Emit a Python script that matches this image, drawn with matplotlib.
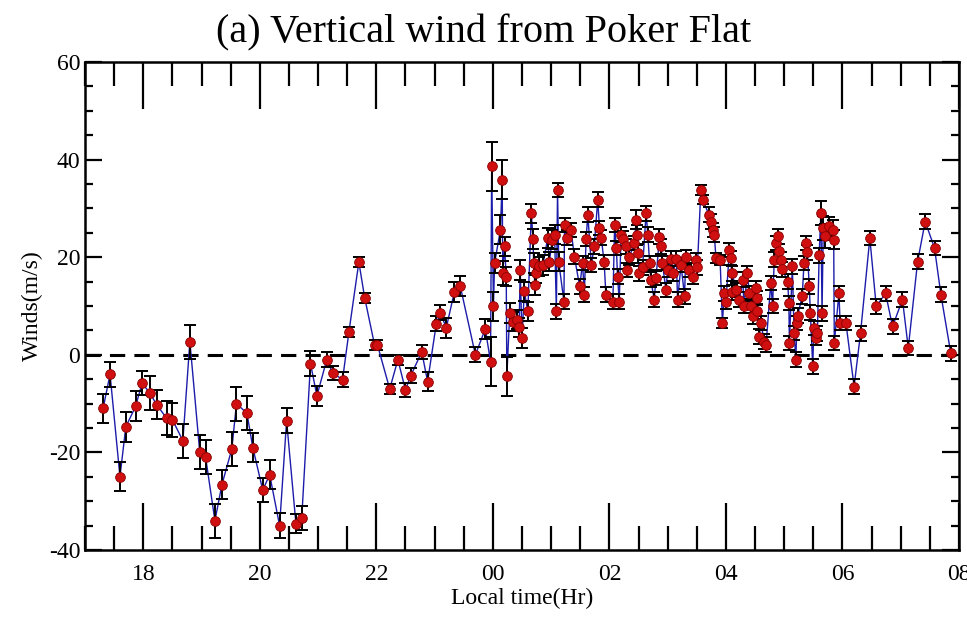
import numpy as np
import matplotlib.pyplot as plt
from matplotlib.ticker import FixedLocator, MultipleLocator

# ── Data (local time in hours, 24+ = after midnight) ──
time_eve = [17.31, 17.43, 17.60, 17.70, 17.87, 17.98, 18.11, 18.23, 18.40, 18.50,
            18.68, 18.80, 18.97, 19.07, 19.23, 19.35, 19.52, 19.60, 19.78, 19.88,
            20.05, 20.17, 20.34, 20.46, 20.62, 20.72, 20.87, 20.98, 21.15, 21.25,
            21.42, 21.53, 21.70, 21.80, 21.97, 22.02, 22.23, 22.37, 22.50, 22.59,
            22.78, 22.88, 23.03, 23.10, 23.20, 23.34, 23.44, 23.70, 23.87]
wind_eve = [-11.0, -4.0, -25.0, -14.8, -10.5, -5.8, -7.8, -10.2, -13.0, -13.3,
            -17.6, 2.7, -20.0, -21.0, -34.0, -26.6, -19.3, -10.0, -12.0, -19.0,
            -27.7, -24.6, -35.0, -13.5, -34.6, -33.4, -1.8, -8.4, -1.0, -3.7,
            -5.1, 4.7, 19.0, 11.7, 2.0, 2.0, -7.0, -1.0, -7.2, -4.3,
            0.6, -5.5, 6.4, 8.6, 5.5, 12.9, 14.1, 0.0, 5.3]
err_eve = [3.0, 2.5, 3.0, 3.0, 3.0, 2.5, 3.5, 3.0, 3.5, 3.5,
           3.5, 3.5, 3.5, 3.5, 3.5, 3.0, 3.5, 3.5, 3.5, 3.0,
           2.5, 3.0, 2.5, 2.5, 2.0, 2.5, 2.5, 2.0, 1.5, 1.5,
           1.5, 1.0, 1.0, 1.0, 1.0, 1.0, 1.0, 1.0, 1.5, 1.5,
           1.5, 2.0, 1.5, 1.5, 2.0, 2.0, 2.0, 1.5, 2.0]

time_mid = [23.96, 23.98, 24.01, 24.03, 24.13, 24.16, 24.17, 24.20, 24.23, 24.24,
            24.29, 24.34, 24.41, 24.45, 24.47, 24.50, 24.54, 24.60, 24.66, 24.69,
            24.70, 24.72, 24.74, 24.80, 24.86, 24.94, 24.97, 25.02, 25.06, 25.09,
            25.11, 25.13, 25.22, 25.23, 25.27, 25.34, 25.40, 25.49, 25.54, 25.57,
            25.60, 25.63, 25.69, 25.74, 25.80, 25.83, 25.86, 25.91, 25.94, 26.06,
            26.09, 26.12, 26.14, 26.17, 26.20, 26.23, 26.29, 26.31, 26.34, 26.43,
            26.46, 26.48, 26.49, 26.51, 26.57, 26.63, 26.66, 26.69, 26.71, 26.77,
            26.80, 26.86, 26.89, 26.91, 26.97, 27.00, 27.06, 27.09, 27.15, 27.17,
            27.23, 27.29, 27.31, 27.37, 27.43, 27.49, 27.51, 27.57, 27.60]
wind_mid = [-1.4, 38.6, 9.9, 18.8, 25.6, 35.9, 16.8, 22.2, 16.0, -4.4,
            8.6, 6.8, 7.2, 5.6, 17.4, 3.4, 13.0, 8.9, 29.0, 23.7,
            18.8, 14.3, 16.7, 18.1, 18.4, 23.9, 19.1, 23.6, 24.6, 8.9,
            33.8, 19.1, 10.9, 26.6, 24.0, 25.6, 20.1, 14.0, 18.8, 12.3,
            23.7, 28.7, 18.4, 22.2, 31.8, 26.0, 24.0, 19.0, 12.3, 10.9,
            26.6, 21.9, 16.0, 10.9, 24.6, 23.8, 22.2, 17.4, 20.0, 22.9,
            27.7, 24.5, 20.8, 16.7, 17.9, 29.0, 24.6, 18.8, 15.4, 11.3,
            15.7, 24.2, 22.2, 18.8, 13.3, 17.4, 19.7, 16.7, 19.7, 11.3,
            18.4, 12.0, 20.0, 17.4, 16.0, 19.4, 17.9, 33.8, 31.8]
err_mid = [5.0, 5.0, 3.0, 2.0, 3.0, 4.0, 2.5, 2.0, 2.0, 4.0,
           2.0, 2.0, 2.0, 2.0, 2.0, 2.0, 2.0, 2.0, 2.0, 2.0,
           2.0, 2.0, 2.0, 2.0, 2.0, 2.0, 2.0, 2.0, 2.0, 1.5,
           1.5, 2.0, 1.5, 1.5, 1.5, 1.5, 1.5, 1.5, 1.5, 1.5,
           1.5, 1.5, 1.5, 1.5, 1.5, 1.5, 1.5, 1.5, 1.5, 1.5,
           1.5, 1.5, 1.5, 1.5, 1.5, 1.5, 1.5, 1.5, 1.5, 1.5,
           2.0, 2.0, 2.0, 1.5, 1.5, 1.5, 1.5, 1.5, 1.5, 1.5,
           1.5, 1.5, 1.5, 1.5, 1.5, 1.5, 1.5, 1.5, 1.5, 1.5,
           1.5, 1.5, 1.5, 1.5, 1.5, 1.5, 1.5, 1.0, 1.0]

time_morn = [27.71, 27.74, 27.77, 27.80, 27.83, 27.90, 27.94, 27.97, 28.00, 28.06,
             28.09, 28.10, 28.11, 28.17, 28.23, 28.29, 28.31, 28.37, 28.40, 28.43,
             28.46, 28.51, 28.53, 28.54, 28.57, 28.60, 28.66, 28.69, 28.77, 28.80,
             28.83, 28.86, 28.89, 28.91, 28.94, 28.97, 29.06, 29.08, 29.09, 29.14,
             29.17, 29.20, 29.22, 29.23, 29.31, 29.34, 29.37, 29.40, 29.43, 29.45,
             29.49, 29.51, 29.54, 29.57, 29.60, 29.63, 29.65, 29.67, 29.70, 29.77,
             29.83, 29.85, 29.86, 29.94, 29.96, 30.06, 30.20, 30.31, 30.47, 30.58,
             30.74, 30.86, 31.03, 31.13, 31.29, 31.42, 31.58, 31.69, 31.86]
wind_morn = [28.7, 27.3, 25.6, 24.6, 19.8, 19.5, 6.5, 12.6, 10.8, 21.5,
             19.8, 12.8, 16.7, 13.3, 11.3, 15.4, 10.0, 16.7, 12.6, 10.0,
             7.9, 13.7, 11.6, 8.9, 3.7, 6.5, 2.7, 2.1, 14.7, 10.0,
             19.5, 22.9, 24.3, 21.2, 19.5, 17.5, 15.0, 10.6, 2.4, 18.1,
             4.5, -1.0, 6.5, 8.0, 12.0, 18.8, 22.9, 21.0, 14.0, 8.6,
             -2.4, 5.5, 3.5, 4.4, 20.4, 29.0, 8.5, 26.0, 24.3, 26.3,
             25.6, 23.6, 2.4, 12.6, 6.5, 6.5, -6.5, 4.4, 23.9, 9.9,
             12.6, 5.8, 11.3, 1.4, 19.1, 27.3, 21.9, 12.3, 0.3]
err_morn = [1.5, 1.5, 1.5, 1.5, 1.0, 1.0, 1.0, 1.5, 1.5, 1.5,
            1.5, 1.5, 1.5, 1.5, 1.5, 1.5, 1.5, 1.5, 1.5, 1.5,
            1.5, 1.5, 1.5, 1.5, 1.5, 1.5, 1.5, 1.5, 1.5, 1.5,
            1.5, 1.5, 1.5, 1.5, 1.5, 1.5, 1.5, 1.5, 1.5, 1.5,
            1.5, 1.5, 1.5, 1.5, 1.5, 1.5, 1.5, 1.5, 1.5, 1.5,
            1.5, 1.5, 1.5, 1.5, 1.5, 2.5, 1.5, 2.5, 2.5, 2.0,
            2.0, 2.0, 1.5, 1.5, 1.5, 1.5, 1.5, 1.5, 1.5, 1.5,
            1.5, 1.5, 1.5, 1.5, 1.5, 1.5, 1.5, 1.5, 1.5]

hour_ticks = [18, 20, 22, 24, 26, 28, 30, 32]
hour_labels = ['18', '20', '22', '00', '02', '04', '06', '08']

# ── Plot ──
plt.rcParams['font.family'] = ['Liberation Serif', 'DejaVu Serif']
plt.rcParams['axes.unicode_minus'] = False

time = np.array(time_eve + time_mid + time_morn)
wind = np.array(wind_eve + wind_mid + wind_morn)
err = np.array(err_eve + err_mid + err_morn)

fig = plt.figure(figsize=(9.67, 6.23), dpi=100)
ax = fig.add_axes([0.0879, 0.1172, 0.9038, 0.7833])

ax.axhline(0, color='black', linestyle=(0, (5, 3)), linewidth=2.2, zorder=1)
ax.plot(time, wind, color='#1c1caa', linewidth=1.0, zorder=2)
ax.errorbar(time, wind, yerr=err, fmt='none', ecolor='black',
            elinewidth=1.4, capsize=4, capthick=1.4, zorder=3)
ax.plot(time, wind, 'o', color='#d01010', markersize=7,
        markeredgecolor='#8a0000', markeredgewidth=0.6, zorder=4)

ax.set_xlim(17, 32)
ax.set_ylim(-40, 60)
ax.xaxis.set_major_locator(FixedLocator(hour_ticks))
ax.set_xticklabels(hour_labels)
ax.xaxis.set_minor_locator(MultipleLocator(0.5))
ax.yaxis.set_major_locator(MultipleLocator(20))
ax.yaxis.set_minor_locator(MultipleLocator(5))

ax.tick_params(axis='x', which='major', direction='in', length=34, width=1.6,
               top=True, bottom=True, labelsize=17, pad=10)
ax.tick_params(axis='x', which='minor', direction='in', length=17, width=1.6,
               top=True, bottom=True)
ax.tick_params(axis='y', which='major', direction='in', length=12, width=1.6,
               left=True, right=True, labelsize=17)
ax.tick_params(axis='y', which='minor', direction='in', length=6, width=1.6,
               left=True, right=True)
for sp in ax.spines.values():
    sp.set_linewidth(1.8)

ax.set_xlabel('Local time(Hr)', fontsize=17, labelpad=2)
ax.set_ylabel('Winds(m/s)', fontsize=17, labelpad=4)
fig.text(0.5, 0.948, '(a) Vertical wind from Poker Flat', ha='center', va='center',
         fontsize=29)

fig.savefig('out.png', dpi=100)
